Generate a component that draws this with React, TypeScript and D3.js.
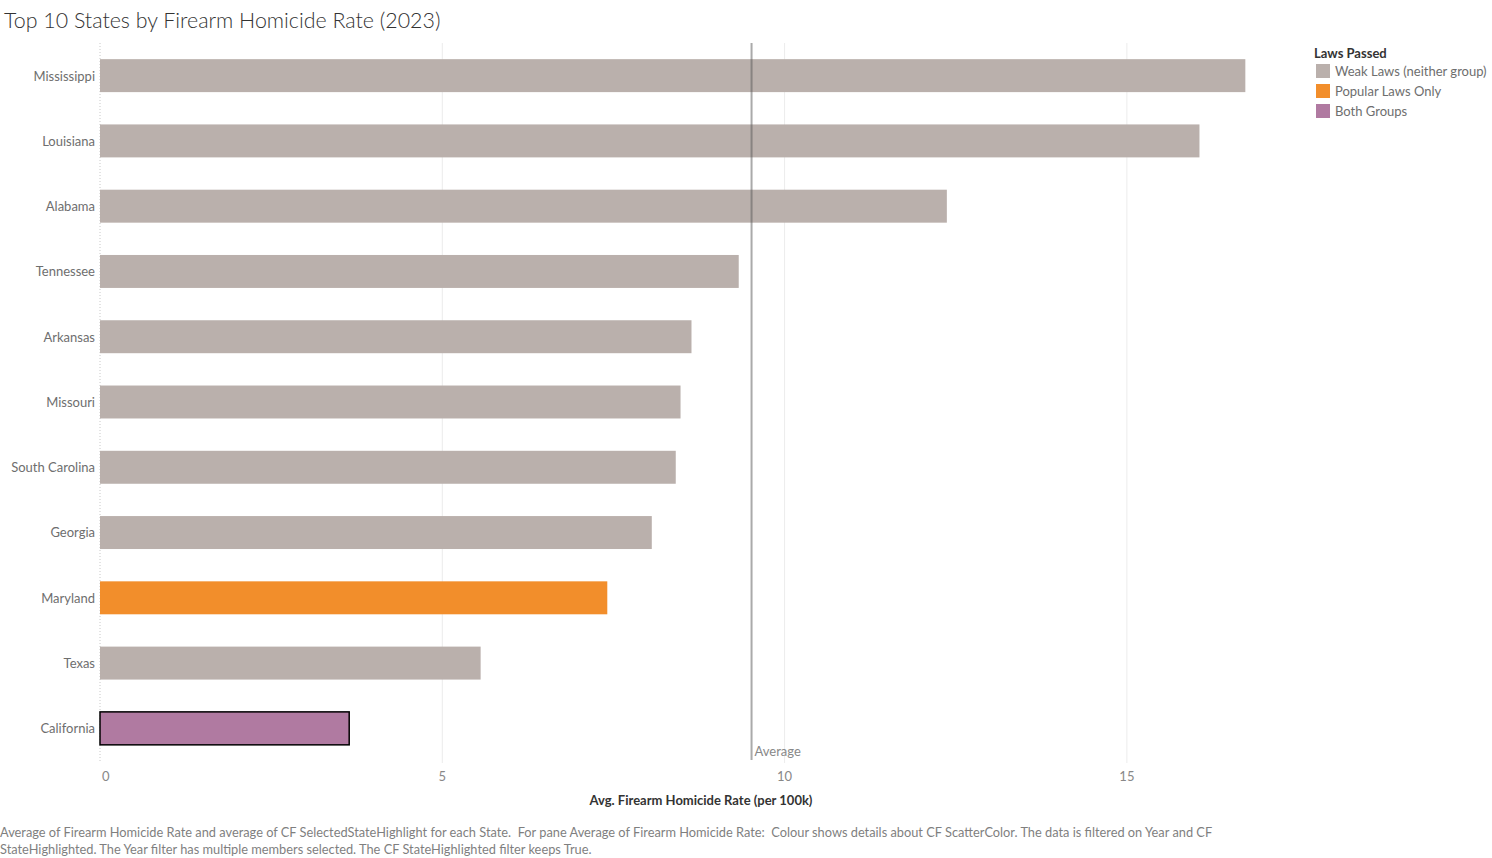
import { useEffect, useRef } from 'react';
import * as d3 from 'd3';

const states = [
  'Mississippi',
  'Louisiana',
  'Alabama',
  'Tennessee',
  'Arkansas',
  'Missouri',
  'South Carolina',
  'Georgia',
  'Maryland',
  'Texas',
  'California'
];
const rates = [16.73, 16.06, 12.37, 9.33, 8.64, 8.48, 8.41, 8.06, 7.41, 5.56, 3.64];
const groups = [
  'Weak Laws (neither group)',
  'Weak Laws (neither group)',
  'Weak Laws (neither group)',
  'Weak Laws (neither group)',
  'Weak Laws (neither group)',
  'Weak Laws (neither group)',
  'Weak Laws (neither group)',
  'Weak Laws (neither group)',
  'Popular Laws Only',
  'Weak Laws (neither group)',
  'Both Groups'
];
const highlighted = ['California'];
const legendGroups = ['Weak Laws (neither group)', 'Popular Laws Only', 'Both Groups'];
const legendColors = ['#bab0ac', '#f28e2b', '#b07aa1'];
const xTicks = [0, 5, 10, 15];
const footerLines = [
  'Average of Firearm Homicide Rate and average of CF SelectedStateHighlight for each State.  For pane Average of Firearm Homicide Rate:  Colour shows details about CF ScatterColor. The data is filtered on Year and CF',
  'StateHighlighted. The Year filter has multiple members selected. The CF StateHighlighted filter keeps True.'
];

const FONT = 'Lato, "Open Sans", sans-serif';

export default function App() {
  const ref = useRef<SVGSVGElement>(null);

  const drawChart = () => {
    const svgEl = d3.select(ref.current!);
    svgEl.selectAll('*').remove();

    const data = states.map((state, i) => ({ state, rate: rates[i], group: groups[i] }));
    const color = d3.scaleOrdinal<string, string>().domain(legendGroups).range(legendColors);

    const xScale = d3.scaleLinear().domain([0, 1]).range([100, 168.46]);
    const yScale = d3.scaleBand().domain(states).range([43, 761]).paddingInner(0.495).paddingOuter(0.2475);
    const plotTop = 43;
    const plotBottom = 763;

    // title
    svgEl
      .append('text')
      .attr('x', 4)
      .attr('y', 28)
      .attr('font-size', '21.4px')
      .attr('font-weight', 300)
      .attr('fill', '#333')
      .text('Top 10 States by Firearm Homicide Rate (2023)');

    // gridlines
    svgEl
      .append('g')
      .selectAll('line')
      .data(xTicks.filter((t) => t > 0))
      .enter()
      .append('line')
      .attr('x1', (d) => xScale(d))
      .attr('x2', (d) => xScale(d))
      .attr('y1', plotTop)
      .attr('y2', plotBottom)
      .attr('stroke', '#ececec')
      .attr('stroke-width', 1);

    // zero axis (dotted)
    svgEl
      .append('line')
      .attr('x1', xScale(0))
      .attr('x2', xScale(0))
      .attr('y1', plotTop)
      .attr('y2', plotBottom)
      .attr('stroke', '#c8c8c8')
      .attr('stroke-dasharray', '1,2');

    // bars
    svgEl
      .append('g')
      .selectAll('rect')
      .data(data)
      .enter()
      .append('rect')
      .attr('x', xScale(0))
      .attr('y', (d) => yScale(d.state)!)
      .attr('width', (d) => xScale(d.rate) - xScale(0))
      .attr('height', yScale.bandwidth())
      .attr('fill', (d) => color(d.group))
      .attr('stroke', (d) => (highlighted.includes(d.state) ? '#000' : 'none'))
      .attr('stroke-width', 1.5);

    // state labels
    svgEl
      .append('g')
      .selectAll('text')
      .data(data)
      .enter()
      .append('text')
      .attr('x', 95)
      .attr('y', (d) => yScale(d.state)! + yScale.bandwidth() / 2)
      .attr('dy', '0.38em')
      .attr('text-anchor', 'end')
      .attr('font-size', '13px')
      .attr('fill', '#6e6e6e')
      .text((d) => d.state);

    // average reference line
    const avg = d3.mean(rates)!;
    svgEl
      .append('line')
      .attr('x1', xScale(avg))
      .attr('x2', xScale(avg))
      .attr('y1', plotTop)
      .attr('y2', 760)
      .attr('stroke', '#555')
      .attr('stroke-opacity', 0.5)
      .attr('stroke-width', 2);
    svgEl
      .append('text')
      .attr('x', xScale(avg) + 3)
      .attr('y', 756)
      .attr('font-size', '13px')
      .attr('fill', '#888')
      .text('Average');

    // x axis ticks
    svgEl
      .append('g')
      .selectAll('text')
      .data(xTicks)
      .enter()
      .append('text')
      .attr('x', (d) => (d === 0 ? xScale(d) + 2 : xScale(d)))
      .attr('y', 781)
      .attr('text-anchor', (d) => (d === 0 ? 'start' : 'middle'))
      .attr('font-size', '13px')
      .attr('fill', '#888')
      .text((d) => d3.format('d')(d));

    svgEl
      .append('text')
      .attr('x', 701)
      .attr('y', 805)
      .attr('text-anchor', 'middle')
      .attr('font-size', '13px')
      .attr('font-weight', 'bold')
      .attr('fill', '#333')
      .text('Avg. Firearm Homicide Rate (per 100k)');

    // legend
    const legend = svgEl.append('g').attr('transform', 'translate(1314, 0)');
    legend
      .append('text')
      .attr('x', 0)
      .attr('y', 58)
      .attr('font-size', '13px')
      .attr('font-weight', 'bold')
      .attr('fill', '#333')
      .text('Laws Passed');
    const items = legend
      .selectAll('g.item')
      .data(legendGroups)
      .enter()
      .append('g')
      .attr('class', 'item')
      .attr('transform', (_, i) => `translate(0, ${64 + i * 20})`);
    items
      .append('rect')
      .attr('x', 2)
      .attr('width', 14)
      .attr('height', 14)
      .attr('fill', (d) => color(d));
    items
      .append('text')
      .attr('x', 21)
      .attr('y', 7)
      .attr('dy', '0.38em')
      .attr('font-size', '13px')
      .attr('fill', '#6e6e6e')
      .text((d) => d);

    // footer
    svgEl
      .append('g')
      .selectAll('text')
      .data(footerLines)
      .enter()
      .append('text')
      .attr('x', 0)
      .attr('y', (_, i) => 837 + i * 17)
      .attr('font-size', '12.8px')
      .attr('fill', '#7f7f7f')
      .style('white-space', 'pre')
      .text((d) => d);
  };

  useEffect(() => {
    document.body.style.margin = '0';
    drawChart();
  }, []);

  return (
    <svg
      ref={ref}
      width={1492}
      height={858}
      style={{ display: 'block', fontFamily: FONT, background: '#fff' }}
    />
  );
}
